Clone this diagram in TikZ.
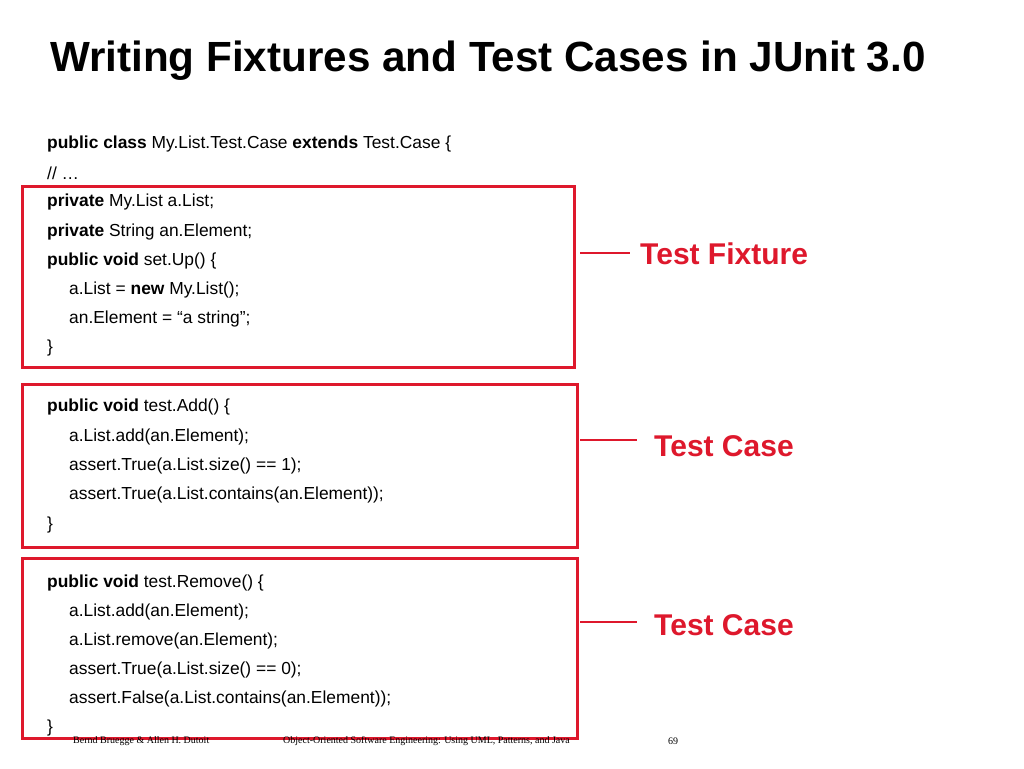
\documentclass[tikz,border=0pt]{standalone}
\usepackage{fontspec}
\setmainfont{Liberation Sans}
\newfontfamily\foot{Liberation Serif}
\definecolor{rd}{RGB}{222,24,44}
\begin{document}
\begin{tikzpicture}[x=1pt,y=-1pt,
 code/.style={anchor=west,inner sep=0pt,font=\fontsize{17.4}{19}\selectfont},
 box/.style={draw=rd,line width=3pt},
 lab/.style={anchor=west,inner sep=0pt,text=rd,font=\bfseries\fontsize{30}{33}\selectfont},
 conn/.style={draw=rd,line width=2pt},
 ft/.style={anchor=west,inner sep=0pt,font=\foot\fontsize{10}{12}\selectfont}]
\useasboundingbox (0,0) rectangle (1024,768);
\fill[white] (0,0) rectangle (1024,768);
\node[anchor=west,inner sep=0pt,font=\bfseries\fontsize{42.2}{45}\selectfont] (t) at (50,61) {Writing Fixtures and Test Cases in JUnit 3.0};
\node[code] (l1) at (47,144) {\textbf{public class} My.List.Test.Case \textbf{extends} Test.Case \{};
\node[code] (l2) at (47,173) {// …};
\node[code] (l3) at (47,202) {\textbf{private} My.List a.List;};
\node[code] (l4) at (47,232) {\textbf{private} String an.Element;};
\node[code] (l5) at (47,261) {\textbf{public void} set.Up() \{};
\node[code] (l6) at (69,290) {a.List = \textbf{new} My.List();};
\node[code] (l7) at (69,319) {an.Element = “a string”;};
\node[code] (l8) at (47,348) {\}};
\node[code] (m1) at (47,407) {\textbf{public void} test.Add() \{};
\node[code] (m2) at (69,437) {a.List.add(an.Element);};
\node[code] (m3) at (69,466) {assert.True(a.List.size() == 1);};
\node[code] (m4) at (69,495) {assert.True(a.List.contains(an.Element));};
\node[code] (m5) at (47,525) {\}};
\node[code] (n1) at (47,583) {\textbf{public void} test.Remove() \{};
\node[code] (n2) at (69,612) {a.List.add(an.Element);};
\node[code] (n3) at (69,641) {a.List.remove(an.Element);};
\node[code] (n4) at (69,670) {assert.True(a.List.size() == 0);};
\node[code] (n5) at (69,699) {assert.False(a.List.contains(an.Element));};
\node[code] (n6) at (47,728) {\}};
\draw[box] (22,186) rectangle (574,367);
\draw[box] (22,384) rectangle (577,547);
\draw[box] (22,558) rectangle (577,738);
\node[lab] (a) at (640,254) {Test Fixture};
\node[lab] (b) at (654,446) {Test Case};
\node[lab] (c) at (654,625) {Test Case};
\coordinate (a0) at (580,253); \coordinate (b0) at (580,440); \coordinate (c0) at (580,622);
\draw[conn] (a0) -- (630,253);
\draw[conn] (b0) -- (637,440);
\draw[conn] (c0) -- (637,622);
\node[ft] (f1) at (73,741) {Bernd Bruegge \& Allen H. Dutoit};
\node[ft] (f2) at (283,741) {Object-Oriented Software Engineering: Using UML, Patterns, and Java};
\node[ft] (f3) at (668,741) {69};
\end{tikzpicture}
\end{document}
